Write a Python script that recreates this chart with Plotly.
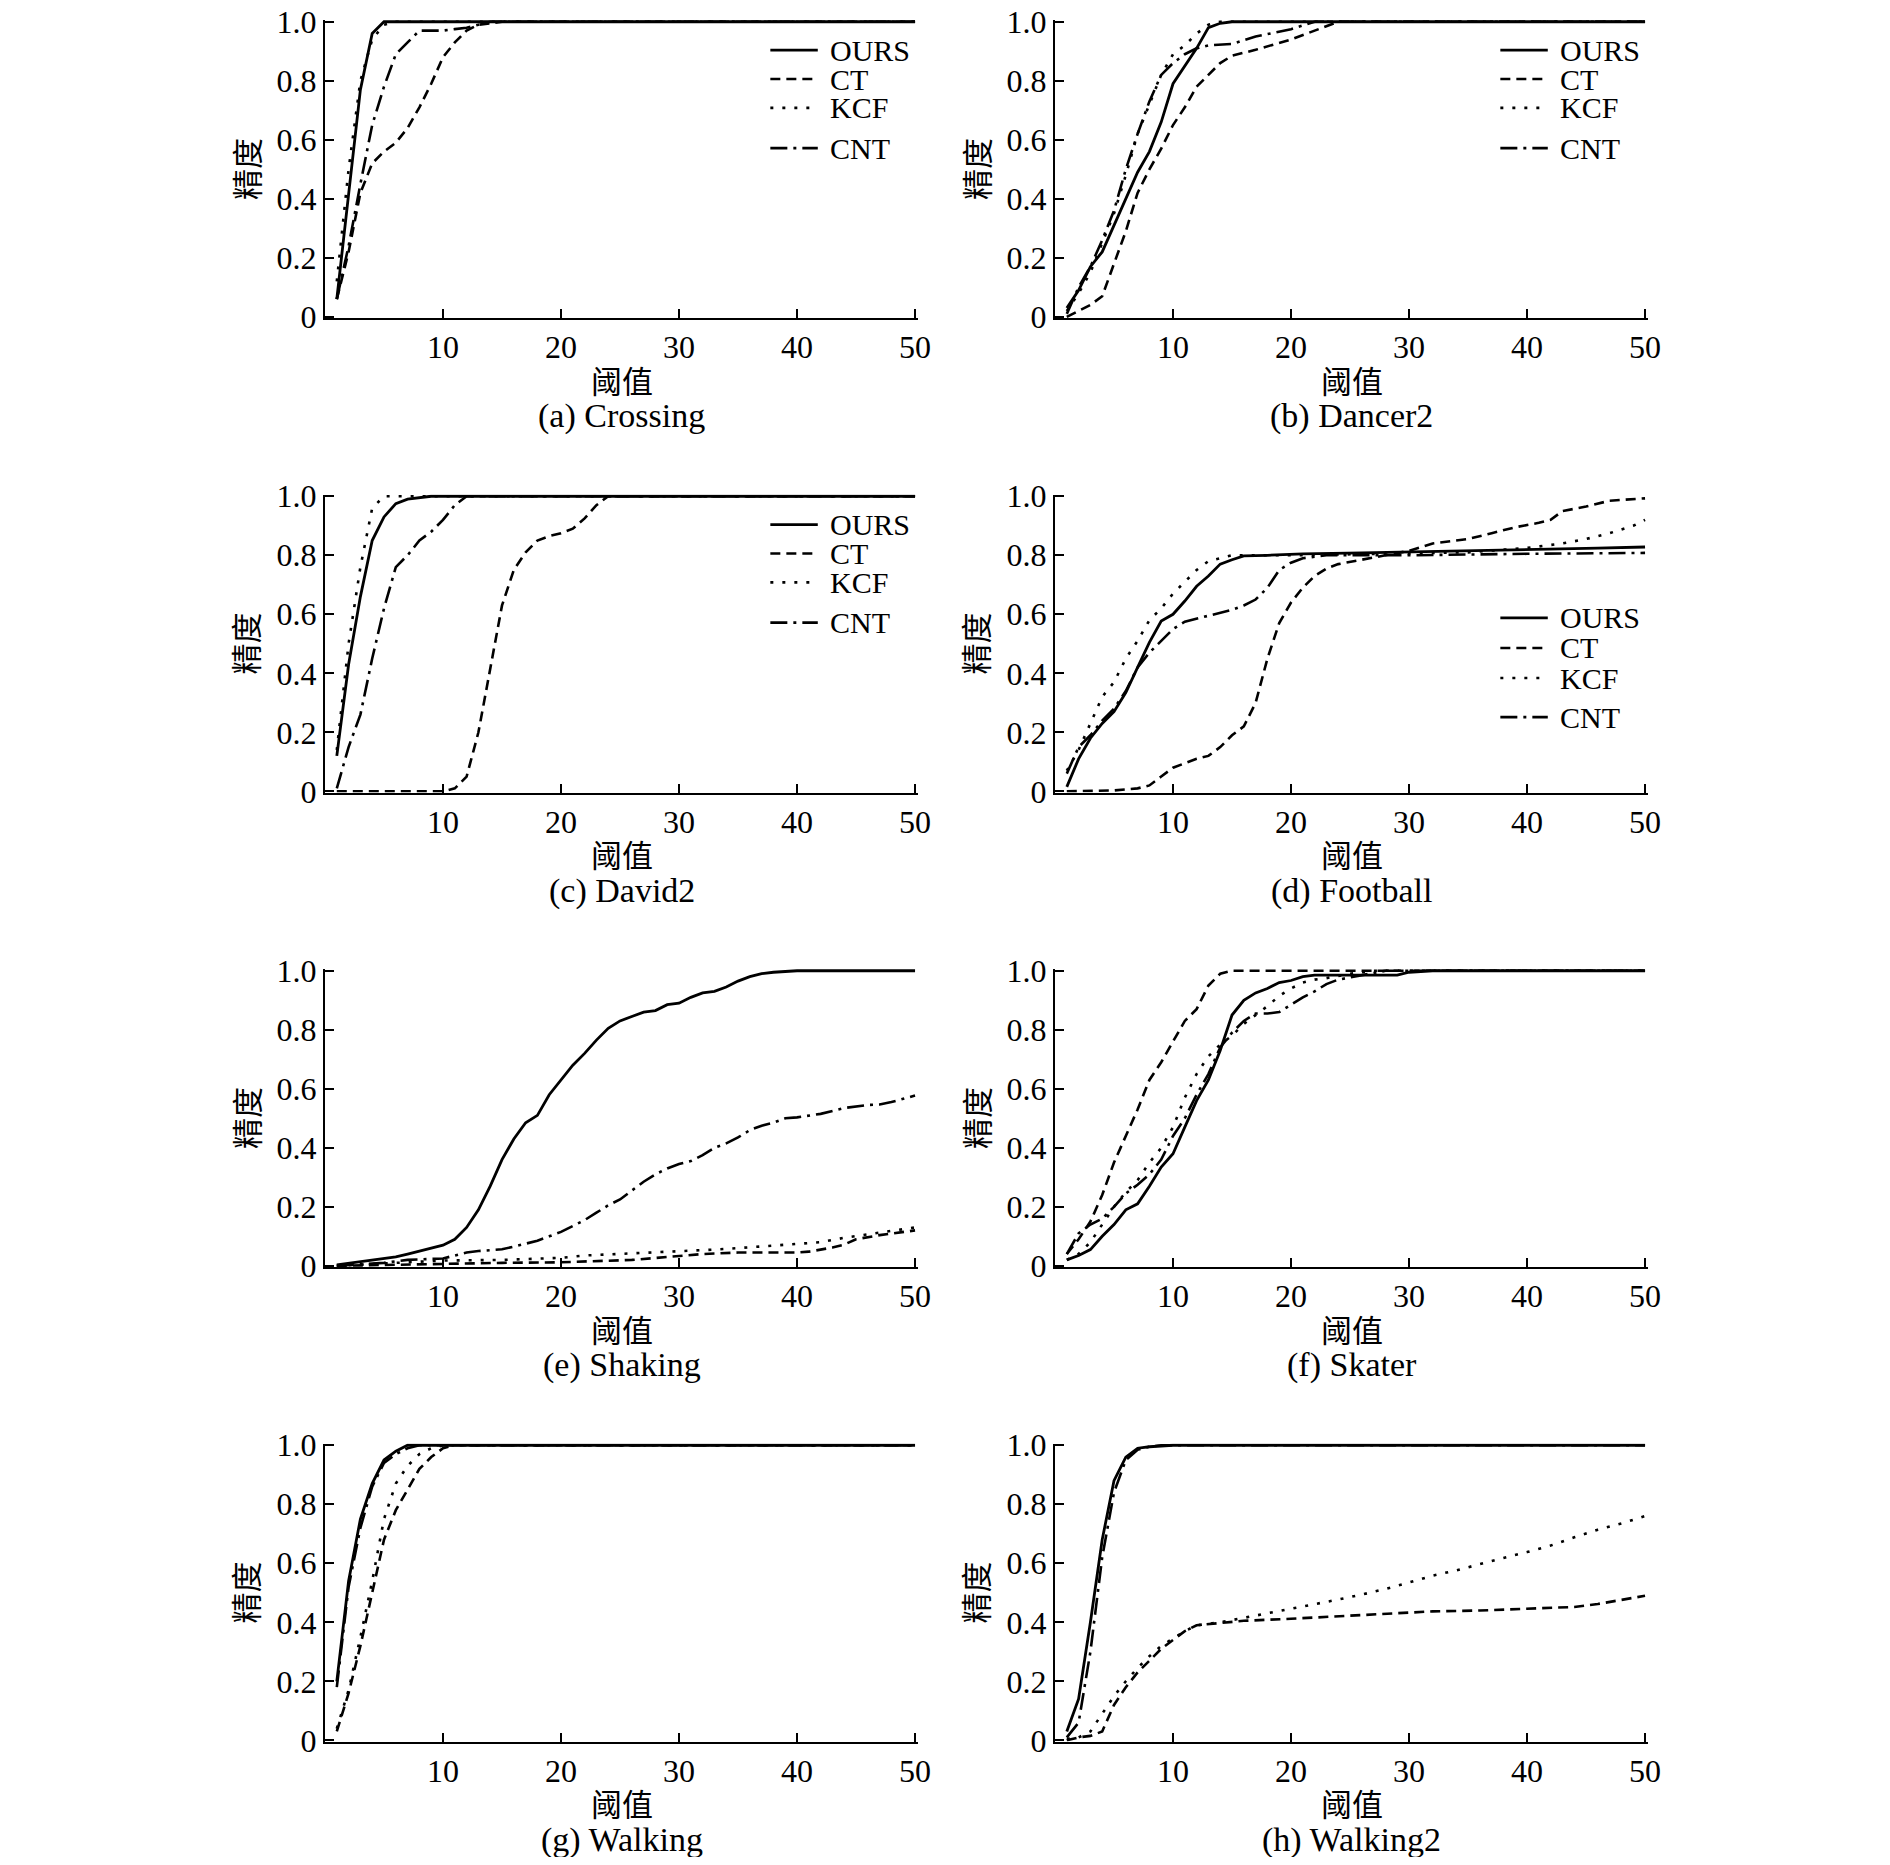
import plotly.graph_objects as go

# ---------------- data (threshold -> precision) ----------------
methods = ["OURS", "CT", "KCF", "CNT"]
captions = ["(a) Crossing", "(b) Dancer2", "(c) David2", "(d) Football",
            "(e) Shaking", "(f) Skater", "(g) Walking", "(h) Walking2"]
x_tick_vals = [10, 20, 30, 40, 50]
y_tick_vals = [0, 0.2, 0.4, 0.6, 0.8, 1.0]
y_tick_text = ["0", "0.2", "0.4", "0.6", "0.8", "1.0"]
x_title = "阈值"
y_title = "精度"

# (a) Crossing
crossing_ours_t = [1, 2, 3, 4, 5, 50]
crossing_ours_p = [0.06, 0.42, 0.77, 0.96, 1.0, 1.0]
crossing_ct_t = [1, 2, 3, 4, 5, 6, 7, 8, 9, 10, 11, 12, 13, 15, 50]
crossing_ct_p = [0.06, 0.22, 0.42, 0.52, 0.56, 0.59, 0.64, 0.71, 0.79, 0.88, 0.93, 0.97, 0.99, 1.0, 1.0]
crossing_kcf_t = [1, 2, 3, 4, 5, 6, 50]
crossing_kcf_p = [0.12, 0.5, 0.8, 0.94, 0.99, 1.0, 1.0]
crossing_cnt_t = [1, 2, 3, 4, 5, 6, 7, 8, 9, 10, 11, 12, 13, 14, 50]
crossing_cnt_p = [0.06, 0.24, 0.45, 0.65, 0.78, 0.89, 0.93, 0.97, 0.97, 0.97, 0.975, 0.98, 0.99, 1.0, 1.0]

# (b) Dancer2
dancer2_ours_t = [1, 2, 3, 4, 5, 6, 7, 8, 9, 10, 11, 12, 13, 14, 15, 50]
dancer2_ours_p = [0.03, 0.09, 0.17, 0.22, 0.31, 0.40, 0.49, 0.56, 0.66, 0.79, 0.85, 0.91, 0.98, 0.995, 1.0, 1.0]
dancer2_ct_t = [1, 2, 3, 4, 5, 6, 7, 8, 9, 10, 11, 12, 13, 14, 15, 17, 20, 22, 24, 50]
dancer2_ct_p = [0.0, 0.02, 0.04, 0.07, 0.18, 0.29, 0.42, 0.5, 0.57, 0.65, 0.71, 0.78, 0.82, 0.86, 0.885, 0.905, 0.94, 0.97, 1.0, 1.0]
dancer2_kcf_t = [1, 2, 3, 4, 5, 6, 7, 8, 9, 10, 11, 12, 13, 14, 50]
dancer2_kcf_p = [0.02, 0.08, 0.15, 0.25, 0.35, 0.48, 0.62, 0.72, 0.82, 0.89, 0.92, 0.96, 0.99, 1.0, 1.0]
dancer2_cnt_t = [1, 2, 3, 4, 5, 6, 7, 8, 9, 10, 11, 12, 13, 15, 17, 20, 22, 50]
dancer2_cnt_p = [0.01, 0.1, 0.17, 0.26, 0.36, 0.5, 0.62, 0.73, 0.82, 0.86, 0.89, 0.91, 0.92, 0.925, 0.95, 0.975, 1.0, 1.0]

# (c) David2
david2_ours_t = [1, 2, 3, 4, 5, 6, 7, 8, 9, 50]
david2_ours_p = [0.12, 0.43, 0.66, 0.85, 0.93, 0.975, 0.99, 0.995, 1.0, 1.0]
david2_ct_t = [1, 10, 11, 12, 13, 14, 15, 16, 17, 18, 19, 20, 21, 22, 23, 24, 50]
david2_ct_p = [0.0, 0.0, 0.01, 0.05, 0.2, 0.42, 0.63, 0.75, 0.81, 0.85, 0.865, 0.875, 0.89, 0.925, 0.97, 1.0, 1.0]
david2_kcf_t = [1, 2, 3, 4, 5, 50]
david2_kcf_p = [0.14, 0.5, 0.76, 0.96, 1.0, 1.0]
david2_cnt_t = [1, 2, 3, 4, 5, 6, 7, 8, 9, 10, 11, 12, 50]
david2_cnt_p = [0.01, 0.15, 0.26, 0.45, 0.62, 0.76, 0.8, 0.85, 0.88, 0.92, 0.97, 1.0, 1.0]

# (d) Football
football_ours_t = [1, 2, 3, 4, 5, 6, 7, 8, 9, 10, 11, 12, 13, 14, 15, 16, 18, 21, 26, 33, 39, 46, 50]
football_ours_p = [0.015, 0.11, 0.18, 0.23, 0.27, 0.335, 0.42, 0.505, 0.577, 0.6, 0.645, 0.695, 0.73, 0.77, 0.785, 0.798, 0.8, 0.805, 0.808, 0.813, 0.818, 0.824, 0.828]
football_ct_t = [1, 5, 7, 8, 9, 10, 11, 12, 13, 14, 15, 16, 17, 18, 19, 20, 21, 22, 23, 24, 26, 28, 30, 32, 35, 37, 39, 41, 42, 43, 45, 47, 50]
football_ct_p = [0.0, 0.003, 0.01, 0.02, 0.05, 0.08, 0.095, 0.11, 0.12, 0.15, 0.19, 0.22, 0.3, 0.45, 0.57, 0.64, 0.69, 0.73, 0.755, 0.77, 0.785, 0.8, 0.815, 0.84, 0.855, 0.875, 0.895, 0.91, 0.92, 0.95, 0.965, 0.985, 0.993]
football_kcf_t = [1, 2, 3, 4, 5, 6, 7, 8, 9, 10, 11, 12, 13, 14, 15, 20, 30, 35, 40, 43, 45, 47, 49, 50]
football_kcf_p = [0.07, 0.14, 0.23, 0.32, 0.37, 0.45, 0.51, 0.58, 0.62, 0.67, 0.71, 0.75, 0.78, 0.79, 0.80, 0.80, 0.805, 0.81, 0.825, 0.84, 0.855, 0.875, 0.9, 0.92]
football_cnt_t = [1, 2, 3, 4, 5, 6, 7, 8, 9, 10, 11, 12, 13, 14, 15, 16, 17, 18, 19, 20, 21, 23, 30, 40, 50]
football_cnt_p = [0.06, 0.15, 0.19, 0.24, 0.28, 0.34, 0.42, 0.47, 0.51, 0.55, 0.575, 0.585, 0.595, 0.605, 0.615, 0.63, 0.65, 0.69, 0.75, 0.775, 0.79, 0.8, 0.8, 0.805, 0.808]

# (e) Shaking
shaking_ours_t = [1, 2, 3, 4, 5, 6, 7, 8, 9, 10, 11, 12, 13, 14, 15, 16, 17, 18, 19, 20, 21, 22, 23, 24, 25,
                  26, 27, 28, 29, 30, 31, 32, 33, 34, 35, 36, 37, 38, 40, 50]
shaking_ours_p = [0.003, 0.008, 0.015, 0.02, 0.025, 0.03, 0.04, 0.05, 0.06, 0.07, 0.09, 0.13, 0.19, 0.27, 0.36, 0.43,
                  0.485, 0.51, 0.58, 0.63, 0.68, 0.72, 0.765, 0.805, 0.83, 0.845, 0.86, 0.865, 0.885, 0.89, 0.91,
                  0.925, 0.93, 0.945, 0.965, 0.98, 0.99, 0.995, 1.0, 1.0]
shaking_ct_t = [1, 5, 8, 10, 15, 20, 23, 26, 29, 32, 35, 40, 41, 42, 43, 44, 45, 47, 50]
shaking_ct_p = [0.0, 0.003, 0.006, 0.008, 0.01, 0.012, 0.015, 0.02, 0.03, 0.04, 0.045, 0.045, 0.048, 0.054, 0.062, 0.072, 0.09, 0.104, 0.12]
shaking_kcf_t = [1, 5, 8, 10, 15, 18, 20, 22, 25, 28, 30, 33, 35, 38, 40, 42, 44, 46, 48, 50]
shaking_kcf_p = [0.0, 0.008, 0.015, 0.018, 0.02, 0.023, 0.027, 0.035, 0.04, 0.046, 0.05, 0.055, 0.06, 0.068, 0.075, 0.08, 0.095, 0.107, 0.118, 0.13]
shaking_cnt_t = [1, 3, 5, 7, 9, 10, 11, 12, 13, 15, 16, 17, 18, 19, 20, 21, 22, 23, 24, 25, 26, 27, 28, 29, 30,
                 31, 32, 33, 34, 35, 36, 37, 38, 39, 40, 42, 44, 46, 47, 48, 50]
shaking_cnt_p = [0.0, 0.005, 0.01, 0.02, 0.025, 0.025, 0.035, 0.045, 0.05, 0.056, 0.065, 0.075, 0.085, 0.1, 0.115,
                 0.135, 0.155, 0.18, 0.205, 0.225, 0.255, 0.285, 0.31, 0.33, 0.345, 0.355, 0.375, 0.4, 0.415,
                 0.435, 0.46, 0.475, 0.485, 0.5, 0.503, 0.515, 0.535, 0.545, 0.547, 0.555, 0.577]

# (f) Skater
skater_ours_t = [1, 2, 3, 4, 5, 6, 7, 8, 9, 10, 11, 12, 13, 14, 15, 16, 17, 18, 19, 20, 21, 22, 29, 30, 32, 50]
skater_ours_p = [0.02, 0.035, 0.055, 0.1, 0.14, 0.19, 0.21, 0.27, 0.335, 0.38, 0.47, 0.56, 0.63, 0.73, 0.85, 0.9,
                 0.925, 0.94, 0.96, 0.967, 0.98, 0.985, 0.985, 0.995, 1.0, 1.0]
skater_ct_t = [1, 2, 3, 4, 5, 6, 7, 8, 9, 10, 11, 12, 13, 14, 15, 50]
skater_ct_p = [0.04, 0.09, 0.15, 0.24, 0.35, 0.44, 0.53, 0.63, 0.69, 0.76, 0.83, 0.87, 0.95, 0.99, 1.0, 1.0]
skater_kcf_t = [1, 2, 3, 4, 5, 6, 7, 8, 9, 10, 11, 12, 13, 14, 15, 16, 17, 18, 19, 20, 21, 22, 23, 25, 27, 50]
skater_kcf_p = [0.02, 0.04, 0.08, 0.14, 0.2, 0.25, 0.29, 0.35, 0.4, 0.47, 0.57, 0.65, 0.71, 0.75, 0.78, 0.82, 0.85,
                0.88, 0.915, 0.94, 0.96, 0.97, 0.975, 0.99, 1.0, 1.0]
skater_cnt_t = [1, 2, 3, 4, 5, 6, 7, 8, 9, 10, 11, 12, 13, 14, 15, 16, 17, 18, 19, 20, 21, 22, 23, 24, 26, 28, 50]
skater_cnt_p = [0.04, 0.11, 0.14, 0.16, 0.2, 0.245, 0.275, 0.31, 0.36, 0.44, 0.5, 0.58, 0.65, 0.74, 0.79, 0.83,
                0.855, 0.855, 0.86, 0.885, 0.91, 0.93, 0.955, 0.97, 0.985, 1.0, 1.0]

# (g) Walking
walking_ours_t = [1, 2, 3, 4, 5, 6, 7, 50]
walking_ours_p = [0.2, 0.54, 0.75, 0.87, 0.95, 0.98, 1.0, 1.0]
walking_ct_t = [1, 2, 3, 4, 5, 6, 7, 8, 9, 10, 11, 50]
walking_ct_p = [0.03, 0.16, 0.32, 0.5, 0.68, 0.78, 0.85, 0.92, 0.96, 0.99, 1.0, 1.0]
walking_kcf_t = [1, 2, 3, 4, 5, 6, 7, 8, 9, 10, 50]
walking_kcf_p = [0.04, 0.17, 0.35, 0.54, 0.75, 0.87, 0.93, 0.97, 0.99, 1.0, 1.0]
walking_cnt_t = [1, 2, 3, 4, 5, 6, 7, 8, 50]
walking_cnt_p = [0.18, 0.52, 0.72, 0.86, 0.94, 0.97, 0.99, 1.0, 1.0]

# (h) Walking2
walking2_ours_t = [1, 2, 3, 4, 5, 6, 7, 8, 10, 50]
walking2_ours_p = [0.03, 0.14, 0.4, 0.68, 0.88, 0.96, 0.99, 0.995, 1.0, 1.0]
walking2_ct_t = [1, 2, 3, 4, 5, 6, 7, 8, 9, 10, 11, 12, 14, 16, 20, 24, 28, 32, 36, 40, 44, 46, 48, 50]
walking2_ct_p = [0.0, 0.01, 0.015, 0.03, 0.12, 0.18, 0.23, 0.27, 0.31, 0.34, 0.37, 0.39, 0.398, 0.405, 0.412, 0.42,
                 0.43, 0.437, 0.44, 0.446, 0.452, 0.462, 0.475, 0.49]
walking2_kcf_t = [1, 2, 3, 4, 5, 6, 7, 8, 9, 10, 11, 12, 14, 16, 18, 20, 22, 24, 26, 28, 30, 32, 34, 36, 38, 40,
                  42, 44, 46, 48, 50]
walking2_kcf_p = [0.005, 0.01, 0.03, 0.09, 0.15, 0.2, 0.245, 0.285, 0.32, 0.345, 0.37, 0.39, 0.4, 0.415, 0.43, 0.445,
                  0.462, 0.477, 0.494, 0.513, 0.535, 0.558, 0.576, 0.598, 0.618, 0.638, 0.66, 0.688, 0.714, 0.735, 0.76]
walking2_cnt_t = [1, 2, 3, 4, 5, 6, 7, 8, 9, 50]
walking2_cnt_p = [0.01, 0.06, 0.3, 0.62, 0.84, 0.95, 0.985, 0.995, 1.0, 1.0]

panel_series = [
    [(crossing_ours_t, crossing_ours_p), (crossing_ct_t, crossing_ct_p), (crossing_kcf_t, crossing_kcf_p), (crossing_cnt_t, crossing_cnt_p)],
    [(dancer2_ours_t, dancer2_ours_p), (dancer2_ct_t, dancer2_ct_p), (dancer2_kcf_t, dancer2_kcf_p), (dancer2_cnt_t, dancer2_cnt_p)],
    [(david2_ours_t, david2_ours_p), (david2_ct_t, david2_ct_p), (david2_kcf_t, david2_kcf_p), (david2_cnt_t, david2_cnt_p)],
    [(football_ours_t, football_ours_p), (football_ct_t, football_ct_p), (football_kcf_t, football_kcf_p), (football_cnt_t, football_cnt_p)],
    [(shaking_ours_t, shaking_ours_p), (shaking_ct_t, shaking_ct_p), (shaking_kcf_t, shaking_kcf_p), (shaking_cnt_t, shaking_cnt_p)],
    [(skater_ours_t, skater_ours_p), (skater_ct_t, skater_ct_p), (skater_kcf_t, skater_kcf_p), (skater_cnt_t, skater_cnt_p)],
    [(walking_ours_t, walking_ours_p), (walking_ct_t, walking_ct_p), (walking_kcf_t, walking_kcf_p), (walking_cnt_t, walking_cnt_p)],
    [(walking2_ours_t, walking2_ours_p), (walking2_ct_t, walking2_ct_p), (walking2_kcf_t, walking2_kcf_p), (walking2_cnt_t, walking2_cnt_p)],
]
legend_panels = [0, 1, 2, 3]            # panels with a legend
legend_rows_top = [0.899, 0.802, 0.705, 0.570]
legend_rows_low = [0.586, 0.485, 0.384, 0.253]

# ---------------- styling ----------------
# page pixels (window 1890x1865); the page body has an 8px margin
PAGE_OFF = 8
FW, FH = 1890 - 2 * PAGE_OFF, 1865 - 2 * PAGE_OFF
col_px = [(325, 918), (1055, 1648)]
row_top_px = [20, 494.5, 969, 1443.5]
plot_h_px = 298
dashes = ["solid", "10px,6px", "3px,9px", "17px,6px,3px,6px"]
widths = [2.8, 2.6, 2.6, 2.6]
serif = "Liberation Serif"
cjk = "Noto Sans CJK SC"

fig = go.Figure()
layout_axes = {}
annotations = []
shapes = []

for i, series in enumerate(panel_series):
    r, c = divmod(i, 2)
    n = i + 1
    xa = "xaxis" if n == 1 else f"xaxis{n}"
    ya = "yaxis" if n == 1 else f"yaxis{n}"
    xr = "x" if n == 1 else f"x{n}"
    yr = "y" if n == 1 else f"y{n}"
    x0, x1 = col_px[c]
    top = row_top_px[r]
    bot = top + plot_h_px
    layout_axes[xa] = dict(
        domain=[(x0 - PAGE_OFF) / FW, (x1 - PAGE_OFF) / FW], anchor=yr, range=[0, 50.25], automargin=False,
        tickvals=x_tick_vals, ticks="inside", ticklen=9, tickwidth=2, tickcolor="black",
        showline=True, linecolor="black", linewidth=2, showgrid=False, zeroline=False,
        ticklabeloverflow="allow",
        tickfont=dict(family=serif, size=32, color="black"),
    )
    layout_axes[ya] = dict(
        domain=[1 - (bot - PAGE_OFF) / FH, 1 - (top - PAGE_OFF) / FH], anchor=xr, range=[-0.004, 1.006],
        automargin=False, tickvals=y_tick_vals, ticktext=y_tick_text, ticks="inside", ticklen=9, tickwidth=2,
        tickcolor="black", showline=True, linecolor="black", linewidth=2, showgrid=False,
        zeroline=False, ticklabeloverflow="allow",
        tickfont=dict(family=serif, size=32, color="black"),
    )
    for k, (tx, py) in enumerate(series):
        fig.add_trace(go.Scatter(
            x=tx, y=py, mode="lines", name=methods[k], showlegend=False,
            line=dict(color="black", width=widths[k], dash=dashes[k]),
            xaxis=xr, yaxis=yr,
        ))
    dx = f"{xr} domain"
    dy = f"{yr} domain"
    annotations.append(dict(text=x_title, xref=dx, yref=dy, x=0.5, y=-0.205, showarrow=False,
                            xanchor="center", yanchor="middle", font=dict(family=cjk, size=31, color="black")))
    annotations.append(dict(text=captions[i], xref=dx, yref=dy, x=0.5, y=-0.33, showarrow=False,
                            xanchor="center", yanchor="middle", font=dict(family=serif, size=34, color="black")))
    annotations.append(dict(text=y_title, xref=dx, yref=dy, x=-0.135, y=0.5, showarrow=False, textangle=-90,
                            xanchor="center", yanchor="middle", font=dict(family=cjk, size=31, color="black")))
    if i in legend_panels:
        rows_y = legend_rows_low if i == 3 else legend_rows_top
        for k, name in enumerate(methods):
            shapes.append(dict(type="line", xref=dx, yref=dy, x0=0.751, x1=0.831, y0=rows_y[k], y1=rows_y[k],
                               line=dict(color="black", width=widths[k], dash=dashes[k])))
            annotations.append(dict(text=name, xref=dx, yref=dy, x=0.848, y=rows_y[k], showarrow=False,
                                    xanchor="left", yanchor="middle",
                                    font=dict(family=serif, size=30, color="black")))

fig.update_layout(
    width=FW, height=FH, margin=dict(l=0, r=0, t=0, b=0, pad=0, autoexpand=False),
    paper_bgcolor="white", plot_bgcolor="white", showlegend=False,
    annotations=annotations, shapes=shapes, **layout_axes,
)
fig.write_html("out.html")
